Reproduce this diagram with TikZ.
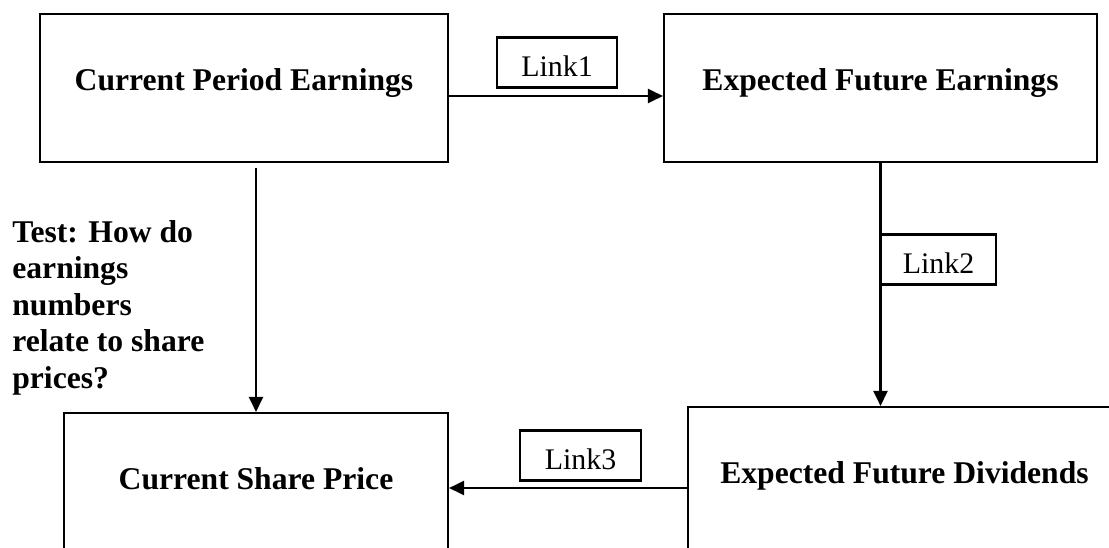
\documentclass[tikz,border=0pt]{standalone}
\usepackage{fontspec}
\setmainfont{Liberation Serif}
\usetikzlibrary{calc, positioning}
\usetikzlibrary{arrows.meta}

\tikzset{
  block/.style={draw, line width=1.2pt, minimum height=2.96cm, inner sep=0pt},
  blocktext/.style={font=\fontsize{18}{21}\selectfont\bfseries, inner sep=0pt, anchor=base},
  linkbox/.style={draw, line width=1.2pt, minimum height=1cm, inner sep=0pt,
    text height=16pt, font=\fontsize{17}{20}\selectfont},
  flow/.style={line width=1.2pt, -{Triangle[length=0.3cm, width=0.28cm]}},
}

\begin{document}
\begin{tikzpicture}[line join=miter]
\def\pagewidth{22.18}
\def\pageheight{10.94}
\def\textdrop{1.56}

\useasboundingbox (0,0) rectangle (\pagewidth,-\pageheight);
\clip (0,0) rectangle (\pagewidth,-\pageheight);

% Main blocks (the lower two run off the page)
\node[block, minimum width=8.16cm] (cpe) at (4.88,-1.76) {};
\node[block, minimum width=8.66cm] (efe) at (17.61,-1.76) {};
\node[block, minimum width=7.68cm] (csp) at (5.12,-9.74) {};
\node[block, minimum width=8.66cm] (efd) at (18.09,-9.62) {};

% Block titles, set a little above the middle
\node[blocktext] (cpe text) at ($(cpe.north)+(0,-\textdrop)$) {Current Period Earnings};
\node[blocktext] (efe text) at ($(efe.north)+(0,-\textdrop)$) {Expected Future Earnings};
\node[blocktext] (csp text) at ($(csp.north)+(0,-\textdrop)$) {Current Share Price};
\node[blocktext] (efd text) at ($(efd.north)+(0,-\textdrop)$) {Expected Future Dividends};

% Link labels
\node[linkbox, minimum width=2.4cm] (link1) at (11.14,-1.25) {Link1};
\node[linkbox, minimum width=2.3cm] (link2) at (18.77,-5.19) {Link2};
\node[linkbox, minimum width=2.42cm] (link3) at (11.61,-9.11) {Link3};

% Question beside the test arrow
\node[anchor=north west, inner sep=0pt, align=left,
      font=\fontsize{18}{20.8}\selectfont\bfseries] (question) at (0.24,-4.40)
  {Test: How do\\ earnings\\ numbers\\ relate to share\\ prices?};

% Arrows
\coordinate (drop) at ($(csp.north |- cpe.south)+(0,-0.1)$);
\coordinate (back) at ($(efd.west)+(0,-0.14)$);
\draw[flow] ([yshift=-0.16cm]cpe.east) -- ([yshift=-0.16cm]efe.west);
\draw[flow] (efe.south) -- (efe.south |- efd.north);
\draw[flow] (back) -- (back -| csp.east);
\draw[flow] (drop) -- (csp.north);
\end{tikzpicture}
\end{document}
